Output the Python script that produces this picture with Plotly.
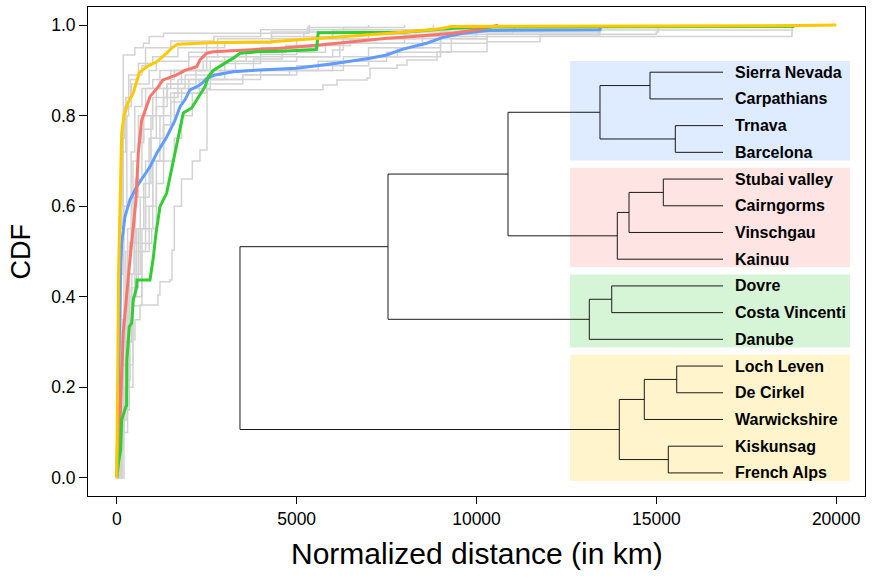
import numpy as np
import plotly.graph_objects as go

FONT = "Liberation Sans, Arial, Helvetica, sans-serif"

# ---------------- CDF curves (distance in km, cumulative fraction) ----------------
yellow_km = [0, 25, 50, 90, 136, 200, 320, 459, 626, 831, 1109, 1387, 1562, 1701, 2600, 4300,
             5700, 7600, 9000, 9300, 19000, 20000]
yellow_cdf = [0, 0.2, 0.45, 0.6, 0.76, 0.8, 0.83, 0.85, 0.895, 0.908, 0.919, 0.938, 0.952, 0.958,
              0.961, 0.963, 0.971, 0.982, 0.992, 0.997, 0.999, 1.0]

red_km = [0, 60, 108, 180, 347, 442, 534, 598, 692, 923, 1154, 1284, 1665, 1896, 2222, 2313, 2499,
          2674, 4537, 5650, 6566, 7512, 8430, 9347, 10098, 10600]
red_cdf = [0, 0.05, 0.172, 0.32, 0.466, 0.54, 0.614, 0.717, 0.79, 0.842, 0.864, 0.879, 0.89, 0.90,
           0.908, 0.923, 0.938, 0.941, 0.949, 0.956, 0.963, 0.971, 0.976, 0.982, 0.991, 1.0]

blue_km = [0, 30, 61, 108, 136, 164, 228, 367, 553, 737, 923, 1110, 1388, 1620, 1758, 1896, 2036,
           2222, 2361, 2499, 2730, 3231, 3750, 5001, 6113, 7039, 7503, 7956, 8615, 9068, 9624,
           10283, 13433, 13450]
blue_cdf = [0, 0.15, 0.32, 0.466, 0.518, 0.54, 0.577, 0.614, 0.643, 0.665, 0.687, 0.717, 0.753,
            0.79, 0.82, 0.835, 0.857, 0.864, 0.871, 0.882, 0.89, 0.897, 0.90, 0.905, 0.916, 0.927,
            0.934, 0.947, 0.960, 0.973, 0.982, 0.988, 0.99, 1.0]

green_km = [0, 40, 108, 136, 250, 275, 280, 348, 414, 459, 553, 560, 923, 970, 1015, 1090, 1201,
            1387, 1526, 1665, 1757, 1849, 2082, 2221, 2313, 2452, 2544, 2683, 3008, 3239, 3425,
            3889, 4723, 5550, 5600, 7956, 9346, 10097, 18800, 18810]
green_cdf = [0, 0.03, 0.062, 0.128, 0.157, 0.16, 0.26, 0.334, 0.342, 0.393, 0.422, 0.437, 0.437,
             0.459, 0.486, 0.54, 0.599, 0.629, 0.68, 0.731, 0.768, 0.806, 0.817, 0.835, 0.846,
             0.864, 0.886, 0.90, 0.916, 0.927, 0.938, 0.941, 0.943, 0.946, 0.983, 0.984, 0.993,
             0.996, 0.997, 1.0]

# individual (grey) site curves
g01_km = [0, 40, 120, 172, 180, 460, 500, 740, 900, 1300, 5300, 5350]
g01_cdf = [0, 0.2, 0.45, 0.57, 0.934, 0.934, 0.95, 0.96, 0.975, 0.982, 0.982, 1.0]
g02_km = [0, 80, 200, 280, 330, 700, 800, 1500, 2700, 4000, 9800, 10000]
g02_cdf = [0, 0.3, 0.6, 0.8, 0.89, 0.91, 0.95, 0.965, 0.975, 0.99, 0.99, 1.0]
g03_km = [0, 100, 250, 400, 500, 700, 1000, 1600, 2500, 4000, 5600, 8300, 10300, 10400]
g03_cdf = [0, 0.25, 0.5, 0.72, 0.82, 0.86, 0.88, 0.9, 0.93, 0.95, 0.97, 0.985, 0.99, 1.0]
g04_km = [0, 120, 300, 480, 600, 750, 1100, 1500, 2400, 3000, 6000, 6300, 9000, 13400, 13450]
g04_cdf = [0, 0.2, 0.45, 0.62, 0.74, 0.8, 0.86, 0.9, 0.92, 0.93, 0.945, 0.97, 0.985, 0.99, 1.0]
g05_km = [0, 150, 350, 550, 800, 950, 1300, 1900, 2900, 5000, 7000, 9000, 10300, 18770, 18780]
g05_cdf = [0, 0.15, 0.4, 0.55, 0.7, 0.8, 0.86, 0.89, 0.9, 0.91, 0.93, 0.96, 0.975, 0.985, 1.0]
g06_km = [0, 200, 450, 700, 1000, 1200, 1500, 2000, 3500, 5000, 6000, 7500, 9300, 10300, 15000, 15050]
g06_cdf = [0, 0.2, 0.38, 0.55, 0.7, 0.8, 0.85, 0.88, 0.89, 0.9, 0.92, 0.94, 0.97, 0.98, 0.985, 1.0]
g07_km = [0, 80, 200, 420, 650, 900, 1300, 1700, 2600, 3800, 4600, 5000, 7000, 11000, 11050]
g07_cdf = [0, 0.1, 0.3, 0.45, 0.62, 0.75, 0.84, 0.88, 0.9, 0.925, 0.95, 0.97, 0.98, 0.99, 1.0]
g08_km = [0, 60, 150, 300, 450, 600, 800, 1200, 2000, 2800, 3000, 4300, 5200, 5300, 8000]
g08_cdf = [0, 0.15, 0.35, 0.55, 0.7, 0.8, 0.86, 0.9, 0.93, 0.95, 0.96, 0.97, 0.985, 0.995, 1.0]
g09_km = [0, 60, 150, 300, 500, 970, 1100, 1300, 1600, 1800, 2100, 2500, 3500, 4800, 6300, 7800,
          9000, 10300, 13400, 13450]
g09_cdf = [0, 0.1, 0.3, 0.45, 0.518, 0.55, 0.65, 0.7, 0.75, 0.8, 0.85, 0.87, 0.89, 0.9, 0.93,
           0.95, 0.97, 0.98, 0.99, 1.0]
g10_km = [0, 50, 150, 300, 500, 800, 1000, 1300, 1600, 2300, 3000, 4000, 5000, 5800, 8000, 10000, 10300]
g10_cdf = [0, 0.08, 0.25, 0.4, 0.5, 0.6, 0.7, 0.78, 0.85, 0.88, 0.915, 0.935, 0.94, 0.96, 0.975,
           0.985, 1.0]
g11_km = [0, 40, 90, 160, 220, 400, 900, 1100, 2000, 2500, 4300, 6000, 9300, 9400]
g11_cdf = [0, 0.35, 0.6, 0.75, 0.82, 0.87, 0.9, 0.92, 0.94, 0.96, 0.975, 0.99, 0.995, 1.0]
g12_km = [0, 61, 117, 172, 256, 367, 506, 645, 1145, 1201, 1479, 1535, 1600, 1800, 2100, 2313,
          2508, 2510, 5010, 5733, 6122, 6956, 7039, 7790, 8068, 8902, 10292, 11766, 13434, 18771,
          18780]
g12_cdf = [0, 0.017, 0.062, 0.128, 0.216, 0.305, 0.349, 0.382, 0.404, 0.433, 0.437, 0.503, 0.6,
           0.66, 0.7, 0.724, 0.75, 0.857, 0.857, 0.868, 0.879, 0.883, 0.905, 0.912, 0.923, 0.941,
           0.963, 0.978, 0.989, 0.989, 1.0]
g13_km = [0, 70, 180, 350, 520, 700, 1000, 1400, 1800, 2600, 3600, 4700, 6500, 8000, 8800]
g13_cdf = [0, 0.12, 0.33, 0.52, 0.66, 0.77, 0.84, 0.87, 0.9, 0.92, 0.94, 0.955, 0.97, 0.99, 1.0]
g14_km = [0, 30, 70, 130, 250, 380, 600, 1000, 1700, 2800, 4300, 6300, 7000]
g14_cdf = [0, 0.3, 0.55, 0.72, 0.84, 0.88, 0.915, 0.93, 0.95, 0.97, 0.985, 0.995, 1.0]
g15_km = [0, 150, 300, 450, 700, 900, 1100, 1300, 1500, 1800, 2600, 4000, 5600, 7000, 8500, 10300, 10350]
g15_cdf = [0, 0.1, 0.25, 0.4, 0.5, 0.6, 0.7, 0.78, 0.83, 0.86, 0.88, 0.9, 0.92, 0.95, 0.975, 0.99, 1.0]
g16_km = [0, 100, 250, 400, 600, 750, 950, 1100, 1400, 2200, 3300, 5000, 6200, 9000, 10000]
g16_cdf = [0, 0.15, 0.3, 0.42, 0.55, 0.65, 0.75, 0.82, 0.87, 0.9, 0.92, 0.93, 0.96, 0.98, 1.0]

grey_curves = [(g01_km, g01_cdf), (g02_km, g02_cdf), (g03_km, g03_cdf), (g04_km, g04_cdf),
               (g05_km, g05_cdf), (g06_km, g06_cdf), (g07_km, g07_cdf), (g08_km, g08_cdf),
               (g09_km, g09_cdf), (g10_km, g10_cdf), (g11_km, g11_cdf), (g12_km, g12_cdf),
               (g13_km, g13_cdf), (g14_km, g14_cdf), (g15_km, g15_cdf), (g16_km, g16_cdf)]

# ---------------- Dendrogram ----------------
leaf_names = ["Sierra Nevada", "Carpathians", "Trnava", "Barcelona",
              "Stubai valley", "Cairngorms", "Vinschgau", "Kainuu",
              "Dovre", "Costa Vincenti", "Danube",
              "Loch Leven", "De Cirkel", "Warwickshire", "Kiskunsag", "French Alps"]
# merges: (child a, child b, height) ; ids >= 16 refer to earlier merges
merge_a = [0, 2, 16, 4, 19, 20, 18, 8, 23, 22, 11, 26, 14, 27, 25]
merge_b = [1, 3, 17, 5, 6, 7, 21, 9, 10, 24, 12, 13, 15, 28, 29]
merge_h = [2030, 1326, 3420, 1660, 2613, 2939, 5977, 3094, 3717, 9313, 1287, 2188, 1521, 2883, 13428]

cluster_first = [0, 4, 8, 11]
cluster_last = [3, 7, 10, 15]
cluster_colors = ["#619CFF", "#F8766D", "#32CD32", "#FFC800"]

# layout of the dendrogram inside the data space
leaf_base = 16853
leaf_y = np.linspace(0.896, 0.011, len(leaf_names))
node_x = [leaf_base] * len(leaf_names)
node_y = list(leaf_y)
seg_x, seg_y = [], []
for a, b, h in zip(merge_a, merge_b, merge_h):
    mx = leaf_base - h
    ya, yb = node_y[a], node_y[b]
    seg_x += [node_x[a], mx, mx, node_x[b], None]
    seg_y += [ya, ya, yb, yb, None]
    node_x.append(mx)
    node_y.append((ya + yb) / 2)

fig = go.Figure()

for xs, ys in grey_curves:
    fig.add_trace(go.Scatter(x=xs, y=ys, mode="lines", line=dict(color="#d3d3d3", width=1.5, shape="hv"),
                             hoverinfo="skip", showlegend=False))

for xs, ys, col in [(blue_km, blue_cdf, cluster_colors[0]), (red_km, red_cdf, cluster_colors[1]),
                    (green_km, green_cdf, cluster_colors[2]), (yellow_km, yellow_cdf, cluster_colors[3])]:
    fig.add_trace(go.Scatter(x=xs, y=ys, mode="lines", line=dict(color=col, width=3),
                             hoverinfo="skip", showlegend=False))

# cluster boxes
box_left = 12600
box_right = 20380
for f, l, col in zip(cluster_first, cluster_last, cluster_colors):
    fig.add_shape(type="rect", xref="x", yref="y", x0=box_left, x1=box_right,
                  y0=leaf_y[l] - 0.018, y1=leaf_y[f] + 0.025,
                  fillcolor=col, opacity=0.2, line=dict(width=0), layer="below")

fig.add_trace(go.Scatter(x=seg_x, y=seg_y, mode="lines", line=dict(color="#1a1a1a", width=1),
                         hoverinfo="skip", showlegend=False))

for name, y in zip(leaf_names, leaf_y):
    fig.add_annotation(x=leaf_base + 280, y=y, xref="x", yref="y", text="<b>%s</b>" % name,
                       showarrow=False, xanchor="left", yanchor="middle",
                       font=dict(family=FONT, size=16, color="black"))

# axis titles
fig.add_annotation(x=0.5, y=-0.1166, xref="paper", yref="paper", text="Normalized distance (in km)",
                   showarrow=False, xanchor="center", yanchor="middle",
                   font=dict(family=FONT, size=30, color="black"))
fig.add_annotation(x=-0.0875, y=0.5, xref="paper", yref="paper", text="CDF", textangle=-90,
                   showarrow=False, xanchor="center", yanchor="middle",
                   font=dict(family=FONT, size=27, color="black"))

x_ticks = [0, 5000, 10000, 15000, 20000]
y_ticks = [0.0, 0.2, 0.4, 0.6, 0.8, 1.0]

fig.update_layout(
    width=872, height=584,
    margin=dict(l=88, r=7, t=7, b=88, autoexpand=False),
    paper_bgcolor="white", plot_bgcolor="white",
    font=dict(family=FONT, color="black"),
    showlegend=False,
    xaxis=dict(range=[-800, 20800], tickvals=x_ticks, ticktext=[str(v) for v in x_ticks],
               ticks="outside", ticklen=7, tickwidth=1, tickcolor="black", automargin=False,
               showline=True, linecolor="black", linewidth=1, mirror=True,
               showgrid=False, zeroline=False, tickfont=dict(family=FONT, size=17.5, color="black")),
    yaxis=dict(range=[-0.04, 1.04], tickvals=y_ticks, ticktext=["%.1f" % v for v in y_ticks],
               ticks="outside", ticklen=8, tickwidth=1, tickcolor="black", automargin=False,
               showline=True, linecolor="black", linewidth=1, mirror=True,
               showgrid=False, zeroline=False, tickfont=dict(family=FONT, size=17.5, color="black")),
)

fig.write_html("out.html", config={"displayModeBar": False},
               post_script="document.body.style.margin='0';document.body.style.overflow='hidden';")
